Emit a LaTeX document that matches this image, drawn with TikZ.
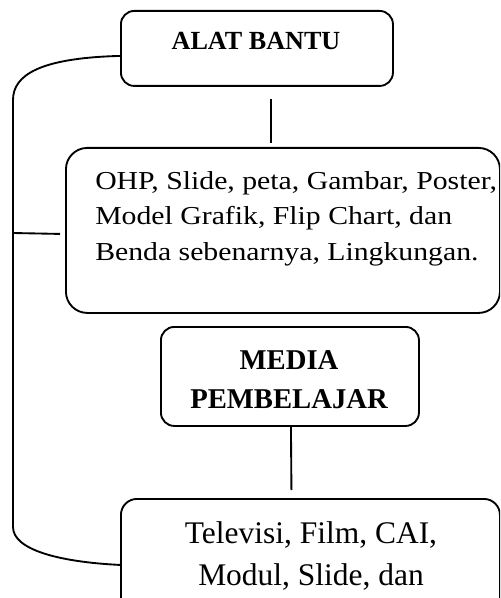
\documentclass[tikz,border=0pt]{standalone}
\usepackage{fontspec}
\setmainfont{Liberation Serif}
\newfontfamily\widefont[FakeStretch=1.15]{Liberation Serif}
\usetikzlibrary{calc}
\begin{document}
\begin{tikzpicture}[x=0.75pt,y=-0.75pt,
  box/.style={draw, line width=1.4pt, rounded corners=#1, inner sep=0pt, anchor=north west},
  box/.default=12pt,
  conn/.style={line width=1.4pt},
  txt/.style={inner sep=0pt, anchor=base}]
\useasboundingbox (0,0) rectangle (500,598);
\clip (0,0) rectangle (500,598);
% boxes
\node[box=10pt, minimum width=272*0.75pt, minimum height=75*0.75pt] (alat) at (120,10) {};
\node[box=16pt, minimum width=434*0.75pt, minimum height=165*0.75pt] (list) at (65,147) {};
\node[box=10pt, minimum width=258*0.75pt, minimum height=99*0.75pt] (media) at (160,326) {};
\node[box=12pt, minimum width=379*0.75pt, minimum height=132*0.75pt] (tv) at (120,498) {};
% texts (base = baseline of last line)
\node[txt, font=\fontsize{19.6pt}{23pt}\selectfont\bfseries] (alatT) at (256,50) {ALAT BANTU};
\node[txt, anchor=base west, align=left, font=\widefont\fontsize{19.4pt}{26.5pt}\selectfont] (listT) at (95,260) {OHP, Slide, peta, Gambar, Poster,\\ Model Grafik, Flip Chart, dan\\ Benda sebenarnya, Lingkungan.};
\node[txt, align=center, font=\fontsize{21.5pt}{29.25pt}\selectfont\bfseries] (mediaT) at (289,408) {MEDIA\\ PEMBELAJAR};
\node[txt, align=center, font=\fontsize{23.6pt}{31.5pt}\selectfont] (tvT) at (311,585) {Televisi, Film, CAI,\\ Modul, Slide, dan};
% connectors
\draw[conn] ($(alat.south)+(14,12)$) -- ($(list.north)+(-12,-4)$);
\draw[conn] ($(media.south)+(1,-1)$) -- ($(tv.north)+(-19,-8)$);
\coordinate (top) at ($(alat.west)+(0,7.5)$);
\coordinate (bot) at ($(tv.west)+(0,0)$);
\coordinate (branch) at (13,233);
\draw[conn] (top) .. controls (40,58) and (13,75) .. (13,100) -- (13,527) .. controls (13,550) and (60,562) .. (bot);
\draw[conn] (branch) -- ($(list.west)+(-5,3.5)$);
\end{tikzpicture}
\end{document}
